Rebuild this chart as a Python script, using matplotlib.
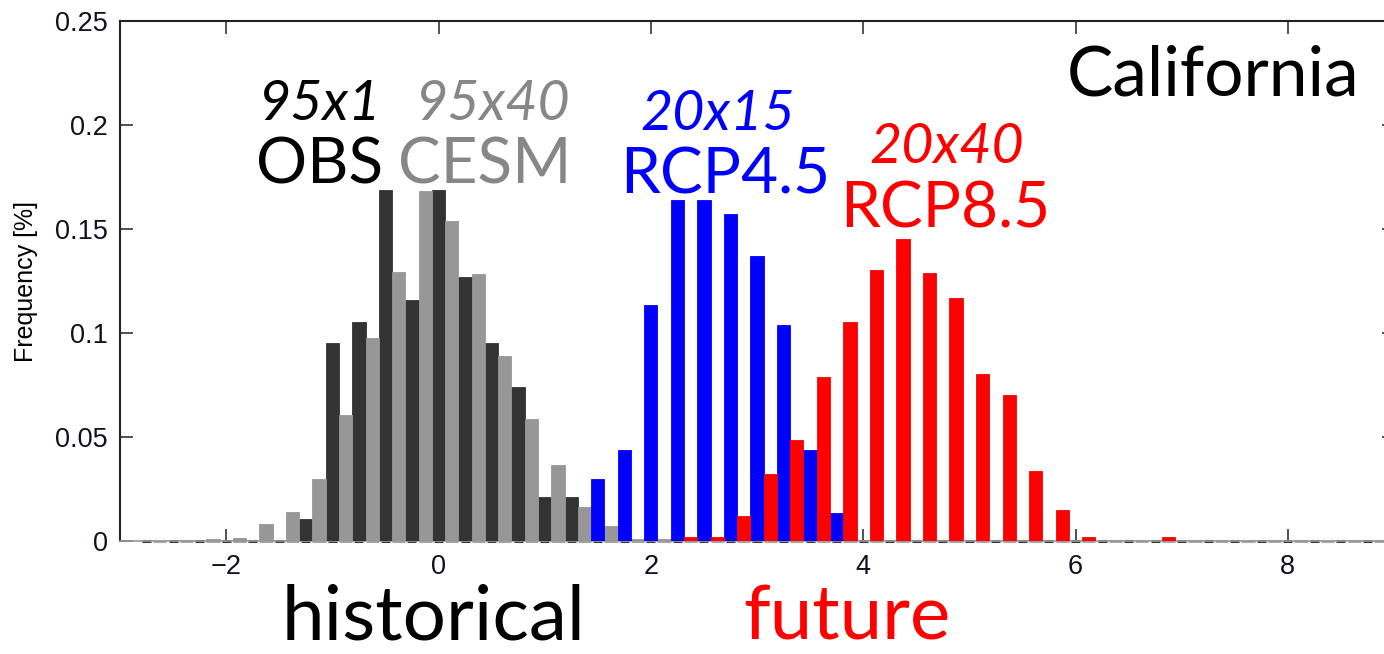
import numpy as np
import matplotlib
matplotlib.use("Agg")
import matplotlib.pyplot as plt

W, H = 1384, 654

# ---------------------------------------------------------------- data
# bins are 0.25 wide; OBS / RCP4.5 sit in the left half, CESM / RCP8.5 in the right half
bins = np.arange(-2.75, 8.76, 0.25)

obs_x = [-1.25, -1.0, -0.75, -0.5, -0.25, 0.0, 0.25, 0.5, 0.75, 1.0, 1.25]
obs_y = [0.0106, 0.0951, 0.1053, 0.1687, 0.1158, 0.1687, 0.1267, 0.0951, 0.0739, 0.0212, 0.0212]

cesm_x = [-2.125, -1.875, -1.625, -1.375, -1.125, -0.875, -0.625, -0.375, -0.125,
          0.125, 0.375, 0.625, 0.875, 1.125, 1.375, 1.625, 1.875, 2.125]
cesm_y = [0.001, 0.0016, 0.008, 0.014, 0.030, 0.0604, 0.0976, 0.1294, 0.1682,
          0.1538, 0.1283, 0.0888, 0.0588, 0.0364, 0.0164, 0.0074, 0.001, 0.001]

rcp45_x = [1.5, 1.75, 2.0, 2.25, 2.5, 2.75, 3.0, 3.25, 3.5, 3.75]
rcp45_y = [0.030, 0.0436, 0.1137, 0.1639, 0.1639, 0.1574, 0.1369, 0.1037, 0.0436, 0.0136]

rcp85_x = [2.375, 2.625, 2.875, 3.125, 3.375, 3.625, 3.875, 4.125, 4.375, 4.625,
           4.875, 5.125, 5.375, 5.625, 5.875, 6.125, 6.875]
rcp85_y = [0.002, 0.002, 0.012, 0.032, 0.0487, 0.0789, 0.1053, 0.1305, 0.1454, 0.1289,
           0.117, 0.0805, 0.070, 0.0337, 0.0151, 0.002, 0.002]

yticks = [0, 0.05, 0.1, 0.15, 0.2, 0.25]
ytick_labels = ["0", "0.05", "0.1", "0.15", "0.2", "0.25"]
xticks = [-2, 0, 2, 4, 6, 8]

BW = 0.125
DARK, GREY = "#333333", "#979797"

# ---------------------------------------------------------------- plot
fig = plt.figure(figsize=(W / 100, H / 100), dpi=100)
ax = fig.add_axes([120 / W, 1 - 541 / H, 1274 / W, 520 / H])

# empty bins still leave their edge on the baseline (dark for OBS, light for CESM)
zero = np.zeros(len(bins))
ax.hlines(zero, bins + BW / 2, bins + 1.5 * BW, color="#a8a8a8", lw=2.2, zorder=2, clip_on=False)
ax.hlines(zero, bins - BW / 2 + 0.02, bins + BW / 2 - 0.02, color="#3a3a3a", lw=2.2, zorder=2,
          clip_on=False)

ax.bar(obs_x, obs_y, BW, color=DARK, edgecolor=DARK, lw=0.6, zorder=3)
ax.bar(cesm_x, cesm_y, BW, color=GREY, edgecolor=GREY, lw=0.6, zorder=3)
ax.bar(rcp45_x, rcp45_y, BW, color="#0000ff", edgecolor="#0000ff", lw=0.6, zorder=3)
ax.bar(rcp85_x, rcp85_y, BW, color="#ff0000", edgecolor="#ff0000", lw=0.6, zorder=3)

ax.set_xlim(-3, 9)
ax.set_ylim(0, 0.25)
ax.set_yticks(yticks)
ax.set_yticklabels(ytick_labels)
ax.set_xticks(xticks)
ax.tick_params(direction="in", length=9, width=1.1, top=True, right=True,
               labelsize=19.5, pad=9, colors="#222222", labelcolor="#111122")
for lab in ax.get_xticklabels() + ax.get_yticklabels():
    lab.set_family("Liberation Sans")
for s in ["left", "top", "right"]:
    ax.spines[s].set_linewidth(1.5)
    ax.spines[s].set_color("#222222")
ax.spines["bottom"].set_color("#999999")
ax.spines["bottom"].set_linewidth(1.2)
ax.set_ylabel("Frequency [%]", fontsize=18, family="Liberation Sans", labelpad=12)


def put(x, y, s, size, color, italic=False):
    fig.text(x / W, 1 - y / H, s, ha="center", va="baseline", fontsize=size,
             color=color, family="Lato", style="italic" if italic else "normal")


put(320, 120, "95x1", 40, "black", True)
put(320, 183, "OBS", 46, "black")
put(493, 120, "95x40", 40, "#878787", True)
put(485, 183, "CESM", 46, "#878787")
put(718, 130, "20x15", 40, "#0000ff", True)
put(725, 193, "RCP4.5", 46, "#0000ff")
put(947, 163, "20x40", 40, "#ff0000", True)
put(945, 228, "RCP8.5", 46, "#ff0000")
put(1213, 96, "California", 50, "black")
put(434, 640, "historical", 55, "black")
put(847, 640, "future", 55, "#ff0000")

fig.savefig("out.png", dpi=100)
